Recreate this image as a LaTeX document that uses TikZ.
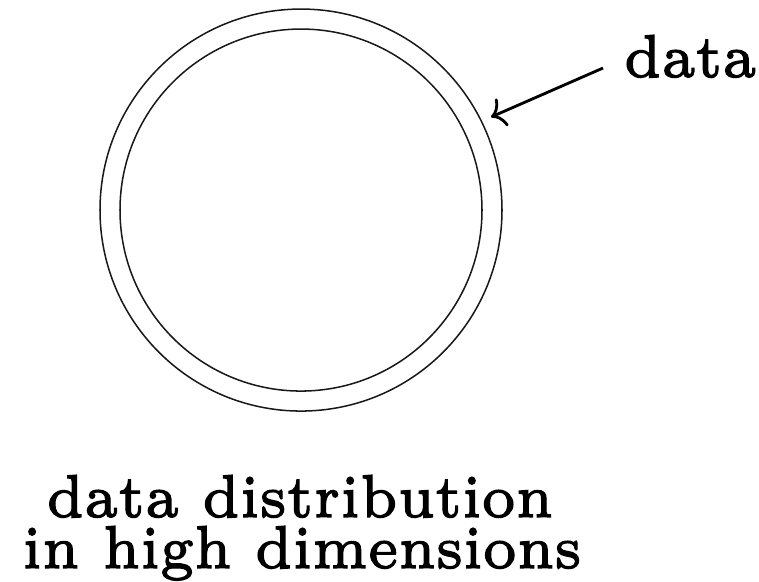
\documentclass[tikz,border=0pt]{standalone}
\usepackage{graphicx}
\usetikzlibrary{arrows.meta}
\newcommand{\heavytext}[1]{\special{pdf:literal direct 2 Tr 0.12 w}#1\special{pdf:literal direct 0 Tr}}
\newcommand{\lbltext}[1]{\scalebox{0.92}[1]{\heavytext{#1}}}
\tikzset{
  ring/.style={line width=0.15pt, draw=black!90},
  pointer/.style={line width=0.28pt, -{To[length=1.3pt,width=3pt]}},
  lbl/.style={inner sep=0pt, outer sep=0pt, font=\fontsize{6}{7}\selectfont}
}
\begin{document}
\begin{tikzpicture}[x=0.0991pt, y=-0.0991pt]
\useasboundingbox (0,0) rectangle (759,581);
\coordinate (c) at (301,210);
\draw[ring] (c) circle [radius=201];
\draw[ring] (c) circle [radius=181];
\node[lbl, anchor=base west] (datalbl) at (624,77) {\lbltext{data}};
\coordinate (arrS) at (603,68);
\coordinate (arrE) at (491,117);
\draw[pointer] (arrS) -- (arrE);
\node[lbl, anchor=base] (lineA) at (300,517) {\lbltext{data distribution}};
\node[lbl, anchor=base] (lineB) at (302,568) {\lbltext{in high dimensions}};
\end{tikzpicture}
\end{document}
